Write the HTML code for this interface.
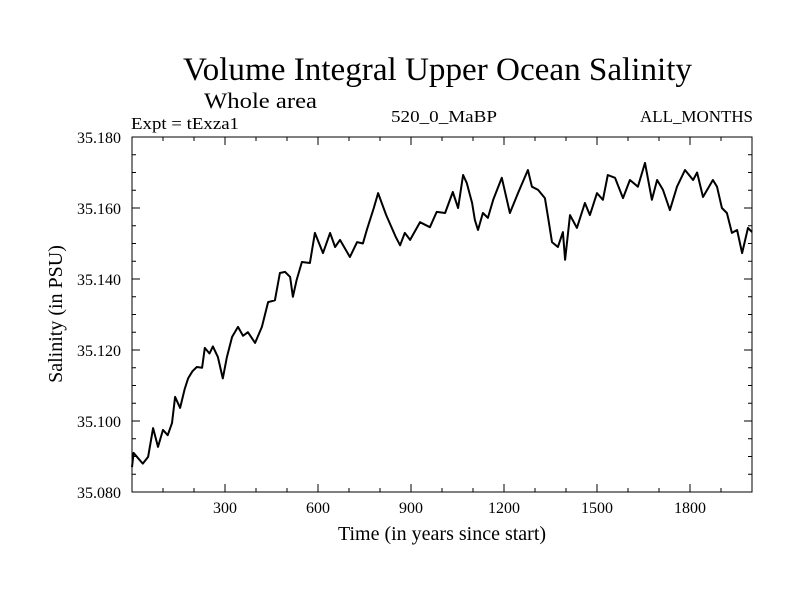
<!DOCTYPE html>
<html><head><meta charset="utf-8"><style>
body{margin:0;background:#fff;}
svg text{font-family:"Liberation Serif",serif;fill:#000;}
</style></head><body>
<svg id="chart" width="800" height="600" viewBox="0 0 800 600">
<rect width="800" height="600" fill="#fff"/>
<text x="183" y="80" font-size="33" textLength="509" lengthAdjust="spacingAndGlyphs">Volume Integral Upper Ocean Salinity</text>
<text x="204" y="108" font-size="22" textLength="113" lengthAdjust="spacingAndGlyphs">Whole area</text>
<text x="131" y="129" font-size="17" textLength="108" lengthAdjust="spacingAndGlyphs">Expt = tExza1</text>
<text x="391" y="122" font-size="17" textLength="106" lengthAdjust="spacingAndGlyphs">520_0_MaBP</text>
<text x="640" y="122" font-size="17" textLength="113" lengthAdjust="spacingAndGlyphs">ALL_MONTHS</text>
<text x="442" y="540" font-size="20" text-anchor="middle">Time (in years since start)</text>
<text transform="translate(62,314) rotate(-90)" font-size="20" text-anchor="middle">Salinity (in PSU)</text>
<g id="axes"></g>
<path id="series" fill="none" stroke="#000" stroke-width="2" stroke-linejoin="round"/>
</svg>
<script>
const years=[0,5,20,35,52,68,84,100,115,129,139,155,170,181,195,209,226,235,250,261,277,293,306,323,342,358,374,397,419,439,461,477,494,510,519,531,548,574,590,616,639,655,671,703,726,745,758,780,794,820,850,865,880,897,929,961,983,1010,1035,1052,1068,1080,1097,1106,1116,1132,1148,1165,1193,1219,1245,1277,1290,1310,1332,1342,1355,1374,1390,1397,1413,1435,1461,1477,1500,1519,1535,1558,1584,1606,1632,1655,1677,1694,1713,1735,1758,1784,1810,1823,1842,1874,1887,1903,1919,1935,1952,1968,1987,2000];
const salinity=[35.087,35.091,35.0895,35.088,35.0899,35.098,35.0927,35.0975,35.096,35.0994,35.1068,35.1037,35.109,35.112,35.114,35.1152,35.115,35.1206,35.119,35.121,35.118,35.112,35.118,35.1237,35.1265,35.124,35.125,35.122,35.1265,35.1335,35.134,35.1417,35.142,35.1406,35.135,35.1397,35.1448,35.1445,35.153,35.1473,35.153,35.149,35.151,35.1462,35.1504,35.150,35.154,35.160,35.1642,35.158,35.152,35.1495,35.153,35.151,35.156,35.1546,35.1589,35.1586,35.1645,35.160,35.1693,35.167,35.1614,35.1566,35.1538,35.1586,35.1572,35.1623,35.1685,35.1586,35.1642,35.1707,35.166,35.1651,35.1628,35.1575,35.1504,35.149,35.1532,35.1454,35.158,35.1544,35.1614,35.158,35.1642,35.1623,35.1693,35.1685,35.1628,35.1679,35.166,35.1727,35.1623,35.1679,35.1651,35.1594,35.166,35.1707,35.1679,35.170,35.1631,35.1679,35.166,35.160,35.1586,35.153,35.1538,35.1473,35.1544,35.1532];
const xTickLabels=[300,600,900,1200,1500,1800];
const yTickLabels=["35.080","35.100","35.120","35.140","35.160","35.180"];
const L=132,R=752,T=137,B=492,X0=0,X1=2000,Y0=35.08,Y1=35.18;
const sx=v=>L+(v-X0)/(X1-X0)*(R-L);
const sy=v=>B-(v-Y0)/(Y1-Y0)*(B-T);
const NS="http://www.w3.org/2000/svg";
const axes=document.getElementById('axes');
function mk(tag,attrs){const e=document.createElementNS(NS,tag);for(const k in attrs)e.setAttribute(k,attrs[k]);axes.appendChild(e);return e;}
const frame=mk('rect',{x:L,y:T,width:R-L,height:B-T,fill:'none',stroke:'#000','stroke-width':1});


for(let v=100;v<X1;v+=100){
  const major=v%300===0,len=major?8:4,x=sx(v);
  const t1=mk('line',{x1:x,x2:x,y1:B,y2:B-len,stroke:'#000'});
  
  
  const t2=mk('line',{x1:x,x2:x,y1:T,y2:T+len,stroke:'#000'});
  
  
}
xTickLabels.forEach(v=>{
  const t=mk('text',{x:sx(v),y:B+21,'font-size':16,'text-anchor':'middle'});
  t.textContent=v;
  
  
});
for(let i=1;i<20;i++){
  const v=Y0+i*0.005,major=i%4===0,len=major?8:4,y=sy(v);
  const t1=mk('line',{x1:L,x2:L+len,y1:y,y2:y,stroke:'#000'});
  
  
  const t2=mk('line',{x1:R,x2:R-len,y1:y,y2:y,stroke:'#000'});
  
  
}
yTickLabels.forEach(s=>{
  const t=mk('text',{x:121,y:sy(parseFloat(s))+6,'font-size':16,'text-anchor':'end'});
  t.textContent=s;
  
  
});
document.getElementById('series').setAttribute('d',years.map((yr,i)=>(i?'L':'M')+sx(yr).toFixed(1)+','+sy(salinity[i]).toFixed(1)).join(' '));
</script>
</body></html>
